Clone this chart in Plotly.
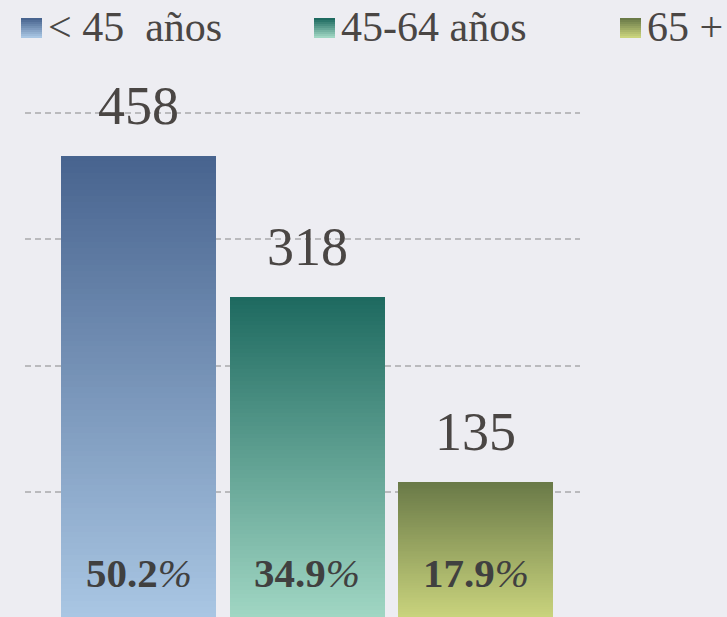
import plotly.graph_objects as go

# ---- data ----
categories = ["< 45\u00a0\u00a0años", "45-64 años", "65 +"]
counts = [458, 318, 135]
shares = ["50.2", "34.9", "17.9"]
grid_vals = [125, 250, 375, 500]

# ---- styles ----
top_colors = ["#48648f", "#1e6a60", "#6a7a48"]
bottom_colors = ["#a9c6e3", "#a0d6c3", "#cad47d"]
bg = "#ededf2"
W, H = 727, 617
FONT = "Liberation Serif"


def hex2rgb(h):
    h = h.lstrip("#")
    return tuple(int(h[i:i + 2], 16) for i in (0, 2, 4))


def mix(c1, c2, t):
    a, b = hex2rgb(c1), hex2rgb(c2)
    r = [round(a[k] + (b[k] - a[k]) * t) for k in range(3)]
    return "rgb(%d,%d,%d)" % tuple(r)


N = 80  # gradient slices per bar
fig = go.Figure()
for i in range(N):
    t = i / (N - 1)
    fig.add_trace(go.Bar(
        x=categories,
        y=[v / N for v in counts],
        marker=dict(color=[mix(bottom_colors[j], top_colors[j], t) for j in range(len(counts))],
                    line=dict(width=0)),
        showlegend=False,
        hoverinfo="skip",
    ))

annotations = []
for j, cat in enumerate(categories):
    annotations.append(dict(
        x=cat, y=counts[j], xref="x", yref="y", text=str(counts[j]),
        showarrow=False, yanchor="middle", yshift=50,
        font=dict(family=FONT, size=54, color="#4a4644"),
    ))
    annotations.append(dict(
        x=cat, y=45, xref="x", yref="y",
        text="<b>%s</b><i>%%</i>" % shares[j],
        showarrow=False, yanchor="middle",
        font=dict(family=FONT, size=41, color="#404040"),
    ))

# legend (built manually to place entries like the reference)
legend_x = [21, 314, 620]
shapes = []
for j, cat in enumerate(categories):
    x0 = legend_x[j]
    steps = 10
    for s in range(steps):
        y0p = 18 + s * 2
        shapes.append(dict(
            type="rect", xref="paper", yref="paper",
            x0=x0 / W, x1=(x0 + 21) / W,
            y0=1 - (y0p + 2) / H, y1=1 - y0p / H,
            fillcolor=mix(top_colors[j], bottom_colors[j], s / (steps - 1)),
            line=dict(width=0), layer="above",
        ))
    annotations.append(dict(
        x=(x0 + 25) / W, y=1 - 27 / H, xref="paper", yref="paper",
        text=cat, showarrow=False, xanchor="left", yanchor="middle",
        font=dict(family=FONT, size=42, color="#4a4644"),
    ))

fig.update_layout(
    width=W, height=H,
    margin=dict(l=0, r=0, t=0, b=0),
    paper_bgcolor=bg, plot_bgcolor=bg,
    barmode="stack", bargap=0.08,
    showlegend=False,
    annotations=annotations,
    shapes=shapes,
    xaxis=dict(domain=[25 / W, 580 / W], range=[-0.674, 2.620],
               showticklabels=False, showgrid=False, zeroline=False,
               categoryorder="array", categoryarray=categories),
    yaxis=dict(range=[1.3, 611.9], tickvals=grid_vals, showticklabels=False,
               showgrid=True, gridcolor="#bababd", gridwidth=2, griddash="6px,4px",
               zeroline=False),
)

fig.write_html("out.html", config={"displayModeBar": False},
               post_script="document.body.style.margin='0';document.body.style.overflow='hidden';")
